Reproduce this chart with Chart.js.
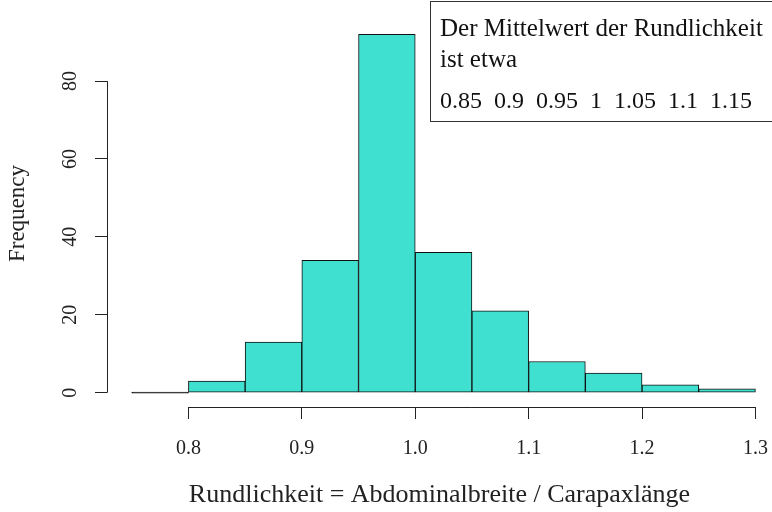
<!DOCTYPE html>
<html>
<head>
<meta charset="utf-8">
<script src="https://cdn.jsdelivr.net/npm/chart.js@4.4.1/dist/chart.umd.min.js"></script>
<style>
  html, body { margin: 0; padding: 0; background: #fff; }
  #wrap { width: 772px; height: 512px; }
</style>
</head>
<body>
<div id="wrap"><canvas id="histChart"></canvas></div>
<script>
// histogram bins (lower edges) and counts
const binEdges = [0.75, 0.80, 0.85, 0.90, 0.95, 1.00, 1.05, 1.10, 1.15, 1.20, 1.25, 1.30];
const counts   = [0, 3, 13, 34, 92, 36, 21, 8, 5, 2, 1];
const xTicks   = [0.8, 0.9, 1.0, 1.1, 1.2, 1.3];
const yTicks   = [0, 20, 40, 60, 80];
const boxLines = ['Der Mittelwert der Rundlichkeit', 'ist etwa', '0.85  0.9  0.95  1  1.05  1.1  1.15'];

const FONT = '"Liberation Serif", "DejaVu Serif", serif';
const INK = '#222';
const FILL = '#40E0D0';

const barData = counts.map((c, i) => ({ x: (binEdges[i] + binEdges[i + 1]) / 2, y: c }));

const rAxes = {
    id: 'rAxes',
    afterDraw(chart) {
        const ctx = chart.ctx, xs = chart.scales.x, ys = chart.scales.y;
        ctx.save();
        ctx.strokeStyle = INK;
        ctx.lineWidth = 1;
        // x axis line spans first to last tick only
        ctx.beginPath();
        ctx.moveTo(xs.getPixelForValue(xTicks[0]), Math.round(xs.top) + 0.5);
        ctx.lineTo(xs.getPixelForValue(xTicks[xTicks.length - 1]), Math.round(xs.top) + 0.5);
        ctx.stroke();
        // y axis line
        const yx = Math.round(ys.right) + 0.5;
        ctx.beginPath();
        ctx.moveTo(yx, ys.getPixelForValue(yTicks[0]));
        ctx.lineTo(yx, ys.getPixelForValue(yTicks[yTicks.length - 1]));
        ctx.stroke();
        // rotated y labels
        ctx.fillStyle = INK;
        ctx.font = '20px ' + FONT;
        ctx.textAlign = 'center';
        ctx.textBaseline = 'middle';
        yTicks.forEach(v => {
            ctx.save();
            ctx.translate(71, ys.getPixelForValue(v));
            ctx.rotate(-Math.PI / 2);
            ctx.fillText(String(v), 0, 0);
            ctx.restore();
        });
        // text box top right
        ctx.fillStyle = '#fff';
        ctx.fillRect(430.5, 1.5, 345, 120);
        ctx.strokeStyle = '#333';
        ctx.strokeRect(430.5, 1.5, 345, 120);
        ctx.fillStyle = '#111';
        ctx.font = '25px ' + FONT;
        ctx.textAlign = 'left';
        ctx.textBaseline = 'alphabetic';
        ctx.fillText(boxLines[0], 440, 36);
        ctx.fillText(boxLines[1], 440, 67);
        ctx.font = '24px ' + FONT;
        ctx.fillText(boxLines[2], 440, 108);
        ctx.restore();
    }
};

new Chart(document.getElementById('histChart'), {
    type: 'bar',
    data: {
        datasets: [{
            data: barData,
            backgroundColor: counts.map(c => c === 0 ? '#111' : FILL),
            borderColor: '#111',
            borderWidth: 1,
            borderSkipped: false,
            minBarLength: 1,
            barPercentage: 1,
            categoryPercentage: 1
        }]
    },
    options: {
        responsive: true,
        maintainAspectRatio: false,
        animation: false,
        layout: { padding: { top: 20, right: 0, left: 0, bottom: 0 } },
        plugins: {
            legend: { display: false },
            tooltip: { enabled: false }
        },
        scales: {
            x: {
                type: 'linear',
                offset: false,
                min: 0.7282,
                max: 1.3146,
                afterBuildTicks: s => { s.ticks = xTicks.map(v => ({ value: v })); },
                afterFit: s => { s.height = 105; s.paddingLeft = 0; s.paddingRight = 0; },
                border: { display: false },
                grid: { offset: false, drawOnChartArea: false, drawTicks: true, tickLength: 12, color: INK },
                ticks: {
                    color: INK,
                    font: { family: FONT, size: 20 },
                    padding: 18,
                    maxRotation: 0,
                    callback: v => Number(v).toFixed(1)
                },
                title: {
                    display: true,
                    text: 'Rundlichkeit = Abdominalbreite / Carapaxlänge',
                    color: INK,
                    font: { family: FONT, size: 26 },
                    padding: { top: 0, bottom: 1 }
                }
            },
            y: {
                min: -3.68,
                max: 95.68,
                afterBuildTicks: s => { s.ticks = yTicks.map(v => ({ value: v })); },
                afterFit: s => { s.width = 107; },
                border: { display: false },
                grid: { drawOnChartArea: false, drawTicks: true, tickLength: 12, color: INK },
                ticks: { display: false },
                title: {
                    display: true,
                    text: 'Frequency',
                    color: INK,
                    font: { family: FONT, size: 23 },
                    padding: { top: 4, bottom: 0 }
                }
            }
        }
    },
    plugins: [rAxes]
});
</script>
</body>
</html>
